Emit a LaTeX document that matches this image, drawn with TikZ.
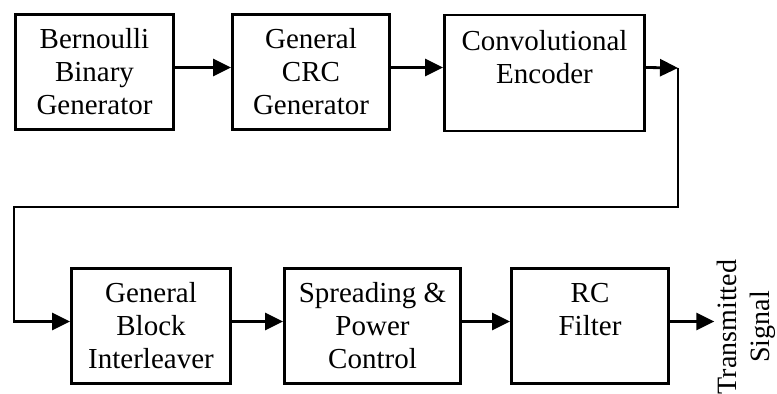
\documentclass[tikz,border=0pt]{standalone}
\usepackage{fontspec}
\setmainfont{Liberation Serif}
\usetikzlibrary{arrows.meta}
\tikzstyle{block}=[draw, line width=1.4pt, minimum height=57.5pt, inner sep=0pt, align=center, font=\fontsize{14.5}{16.5}\selectfont]
\tikzstyle{flow}=[line width=1.4pt, -{Triangle[length=9pt,width=8.5pt]}]
\newcommand{\up}{2.25pt} % arrows sit a little above the box centres

\begin{document}
\begin{tikzpicture}[x=0.5pt,y=0.5pt]
\useasboundingbox (0,0) rectangle (777,394);
% first row of blocks
\node[block, minimum width=79pt] (bern) at (94.5,322) {Bernoulli\\Binary\\Generator};
\node[block, minimum width=78.5pt] (crc) at (311,322) {General\\CRC\\Generator};
\node[block, minimum width=100pt, minimum height=58pt] (conv) at (544.5,321) {Convolutional\\Encoder\\\mbox{}};
% second row of blocks
\node[block, minimum width=79.5pt] (intl) at (151,68) {General\\Block\\Interleaver};
\node[block, minimum width=88pt] (spread) at (372.5,68) {Spreading \&\\Power\\Control};
\node[block, minimum width=78.5pt] (rc) at (590,68) {RC\\Filter\\\mbox{}};
% output label
\node[rotate=90, align=center, inner sep=1pt, font=\fontsize{14}{16.5}\selectfont] (out) at (746,67) {Transmitted\\Signal};
% corners of the return line
\coordinate (turn) at (678,326);
\coordinate (back) at (14,187);
% arrows
\draw[flow] ([yshift=\up]bern.east) -- ([yshift=\up]crc.west);
\draw[flow] ([yshift=\up]crc.east) -- ([yshift=\up]crc.east -| conv.west);
\draw[flow] ([yshift=\up]crc.east -| conv.east) -- (turn);
\draw[flow] (turn) |- (back) |- ([yshift=\up]intl.west);
\draw[flow] ([yshift=\up]intl.east) -- ([yshift=\up]spread.west);
\draw[flow] ([yshift=\up]spread.east) -- ([yshift=\up]rc.west);
\draw[flow] ([yshift=\up]rc.east) -- ([yshift=\up]rc.east -| out.north);
\end{tikzpicture}
\end{document}
